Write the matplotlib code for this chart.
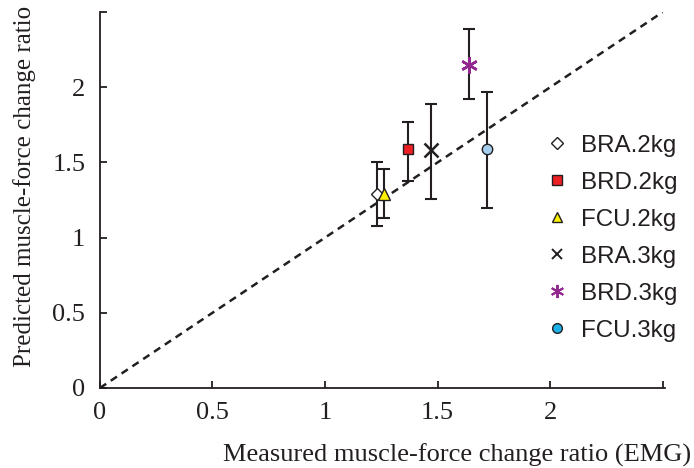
import numpy as np
import matplotlib.pyplot as plt
from matplotlib.ticker import FixedLocator

# muscle / load combinations
labels = ["BRA.2kg", "BRD.2kg", "FCU.2kg", "BRA.3kg", "BRD.3kg", "FCU.3kg"]
measured = [1.23, 1.37, 1.26, 1.47, 1.64, 1.72]
predicted = [1.29, 1.59, 1.29, 1.58, 2.15, 1.59]
err_low = [0.21, 0.21, 0.16, 0.32, 0.23, 0.39]
err_high = [0.21, 0.18, 0.17, 0.31, 0.24, 0.38]

tick_values = [0, 0.5, 1, 1.5, 2, 2.5]
tick_labels = ["0", "0.5", "1", "1.5", "2", ""]

markers = ["D", "s", "^", "x", "*", "o"]
face_colors = ["white", "#ed2024", "#fff200", "#231f20", "#92278f", "#a5cdee"]
legend_face = ["white", "#ed2024", "#fff200", "#231f20", "#92278f", "#1cb0e8"]
marker_sizes = [6, 7.5, 8, 10, 12, 7.5]

dark = "#231f20"

plt.rcParams["font.family"] = ["Liberation Serif", "DejaVu Serif"]

fig = plt.figure(figsize=(6.94, 4.68), dpi=100)
ax = fig.add_axes([0.144, 0.171, 0.814, 0.803])

# y = x reference line
ax.plot([0, 2.5], [0, 2.5], linestyle=(0, (3, 2.2)), color=dark, linewidth=1.8, zorder=1)

# error bars
ax.errorbar(measured, predicted, yerr=[err_low, err_high], fmt="none",
            ecolor=dark, elinewidth=1.5, capsize=4.5, capthick=1.5, zorder=2)

for i in range(len(labels)):
    if markers[i] == "x":
        ax.plot(measured[i], predicted[i], linestyle="none", marker="x",
                markersize=marker_sizes[i], markeredgewidth=1.8, color=dark, zorder=3)
    elif markers[i] == "*":
        ax.plot(measured[i], predicted[i], linestyle="none", marker=(6, 2, 0),
                markersize=marker_sizes[i], markeredgewidth=1.8, color=face_colors[i], zorder=3)
    else:
        ax.plot(measured[i], predicted[i], linestyle="none", marker=markers[i],
                markersize=marker_sizes[i], markerfacecolor=face_colors[i],
                markeredgecolor=dark, markeredgewidth=1.0, zorder=3)

# legend-only handles (legend shows markers without error bars)
handles = []
for i in range(len(labels)):
    if markers[i] == "x":
        h, = ax.plot([], [], linestyle="none", marker="x", markersize=7.5,
                     markeredgewidth=1.4, color=dark, label=labels[i])
    elif markers[i] == "*":
        h, = ax.plot([], [], linestyle="none", marker=(6, 2, 0), markersize=9.5,
                     markeredgewidth=1.4, color=legend_face[i], label=labels[i])
    else:
        h, = ax.plot([], [], linestyle="none", marker=markers[i],
                     markersize=7 if markers[i] != "D" else 6,
                     markerfacecolor=legend_face[i], markeredgecolor=dark,
                     markeredgewidth=1.0, label=labels[i])
    handles.append(h)

leg = ax.legend(handles=handles, loc="upper left", bbox_to_anchor=(0.788, 0.674),
                frameon=False, borderpad=0, borderaxespad=0, handlelength=1,
                handletextpad=0.5, labelspacing=0.62,
                prop={"family": "Liberation Sans", "size": 17.4})
for t in leg.get_texts():
    t.set_color(dark)

ax.set_xlim(0, 2.51)
ax.set_ylim(0, 2.5)
ax.xaxis.set_major_locator(FixedLocator(tick_values))
ax.yaxis.set_major_locator(FixedLocator(tick_values))
ax.set_xticklabels(tick_labels)
ax.set_yticklabels(tick_labels)
ax.tick_params(direction="in", length=5, width=1.3, color=dark, labelsize=19,
               labelcolor=dark)
ax.tick_params(axis="x", pad=10)
ax.tick_params(axis="y", pad=10.5)

for side in ["top", "right"]:
    ax.spines[side].set_visible(False)
for side in ["left", "bottom"]:
    ax.spines[side].set_color(dark)
    ax.spines[side].set_linewidth(1.3)

ax.set_xlabel("Measured muscle-force change ratio (EMG)", fontsize=19, color=dark)
ax.set_ylabel("Predicted muscle-force change ratio", fontsize=18, color=dark)
ax.xaxis.set_label_coords(0.632, -0.148)
ax.yaxis.set_label_coords(-0.113, 0.535)

fig.savefig("out.png", dpi=100)
